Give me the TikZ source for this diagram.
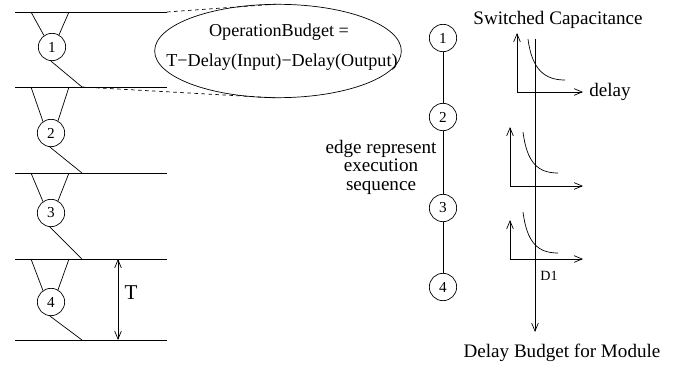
\documentclass[tikz,border=0pt]{standalone}
\usepackage{fontspec}
\setmainfont{Liberation Serif}
\usetikzlibrary{positioning,shapes.geometric,arrows.meta}
\tikzset{op vertex/.style={circle,draw,minimum size=0.82cm,inner sep=0pt,font=\fontsize{13}{13}\selectfont},
budget ellipse/.style={ellipse,draw,minimum width=7.4cm,minimum height=2.8cm,inner sep=0pt},
label text/.style={inner sep=0pt,font=\fontsize{16.3}{15.8}\selectfont}}

\begin{document}
\begin{tikzpicture}[x=0.03cm,y=-0.03cm,line width=0.6pt,>={Straight Barb[length=2.4mm,width=2mm]}]
        \useasboundingbox (0,0) rectangle (689,369);

        % control steps
        \node (s1)	[op vertex] at	(52,47)		{1};
        \node (s2)	[op vertex] at	(51,133)	{2};
        \node (s3)	[op vertex] at	(51,213)	{3};
        \node (s4)	[op vertex] at	(51,302)	{4};

        \coordinate (l1) at (31,12);	\coordinate (r1) at (69,12);
        \coordinate (l2) at (31,87);	\coordinate (r2) at (69,87);
        \coordinate (l3) at (31,173);	\coordinate (r3) at (69,173);
        \coordinate (l4) at (31,259);	\coordinate (r4) at (69,259);
        \coordinate (d1) at (82,87);
        \coordinate (d2) at (82,173);
        \coordinate (d3) at (82,259);
        \coordinate (d4) at (82,340);

        \draw (15,12) -- (167,12) (15,87) -- (167,87) (15,173) -- (167,173) (15,259) -- (167,259) (15,340) -- (167,340);
        \draw (l1) -- (s1.125) (r1) -- (s1.60) (s1.-95) -- (d1);
        \draw (l2) -- (s2.125) (r2) -- (s2.60) (s2.-95) -- (d2);
        \draw (l3) -- (s3.125) (r3) -- (s3.60) (s3.-95) -- (d3);
        \draw (l4) -- (s4.125) (r4) -- (s4.60) (s4.-95) -- (d4);

        \coordinate (ttop) at (118,259);
        \coordinate (tbot) at (118,340);
        \draw [<->] (ttop) -- (tbot);
        \node (T) [inner sep=0pt,font=\fontsize{18}{18}\selectfont] at (131,293) {T};

        % budget of one operation
        \node (budget) [budget ellipse] at (278,51) {};
        \node (opb) [inner sep=0pt,font=\fontsize{15.5}{15.5}\selectfont] at (279,32) {OperationBudget =};
        \node (opd) [inner sep=0pt,font=\fontsize{15.5}{15.5}\selectfont] at (282,62) {T−Delay(Input)−Delay(Output)};
        \coordinate (b1) at (167,12);
        \draw [dashed] (b1) -- (budget.north) (d1) -- (budget.south);

        % execution sequence
        \node (e1)	[op vertex] at	(443,38)	{1};
        \node (e2)	[op vertex] at	(443,117)	{2};
        \node (e3)	[op vertex] at	(443,208)	{3};
        \node (e4)	[op vertex] at	(443,287)	{4};
        \draw (e1) -- (e2) -- (e3) -- (e4);
        \node (seq) [label text,align=center] at (381,167) {edge represent\\execution\\sequence};

        % switched capacitance vs delay
        \draw [<->] (517,33) -- (517,92) -- (583,92);
        \draw [<->] (510,127) -- (510,186) -- (583,186);
        \draw [<->] (510,220) -- (510,259) -- (583,259);
        \draw (528,39) .. controls +(4,31) and +(-20,0) .. (565,80);
        \draw (523,132) .. controls +(4,31) and +(-20,0) .. (558,173);
        \draw (523,212) .. controls +(4,31) and +(-20,0) .. (558,253);
        \coordinate (dtop) at (535,39);
        \coordinate (dbot) at (535,332);
        \draw [->] (dtop) -- (dbot);

        \node (cap) [label text] at (558,20) {Switched Capacitance};
        \node (delay) [label text,anchor=west] at (589,92) {delay};
        \node (D1) [inner sep=0pt,font=\fontsize{12}{12}\selectfont] at (549,276) {D1};
        \node (module) [label text] at (562,353) {Delay Budget for Module};
\end{tikzpicture}
\end{document}
